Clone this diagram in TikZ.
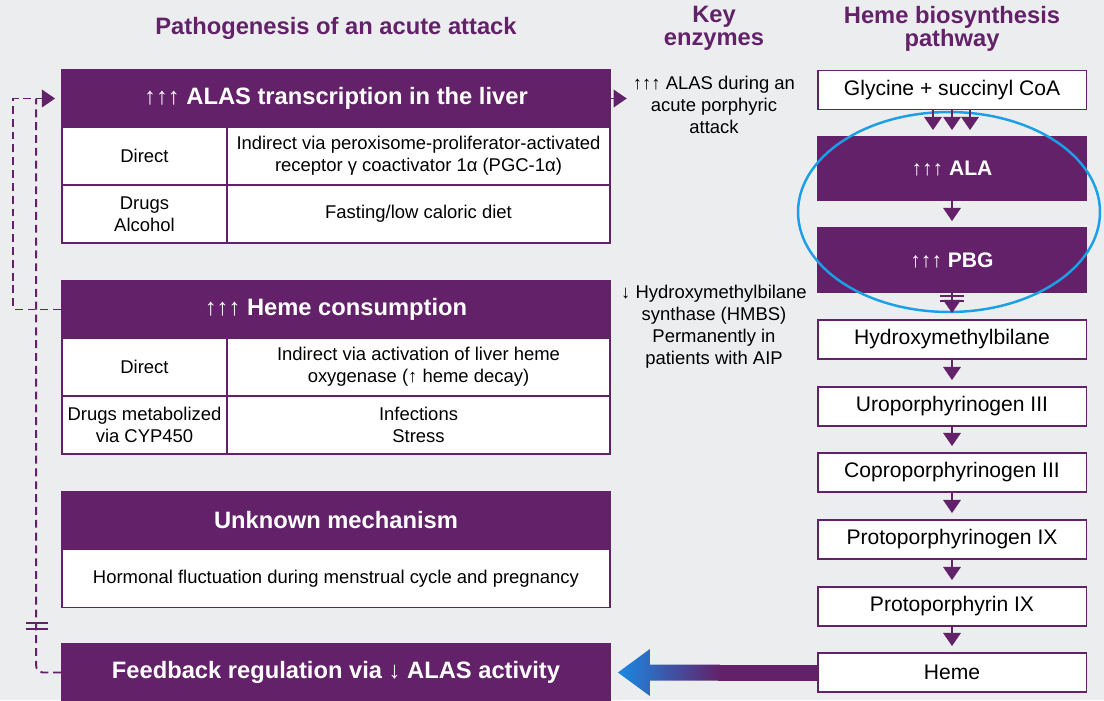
\documentclass[tikz,border=0pt]{standalone}
\usepackage{fontspec}
\setmainfont{Liberation Sans}
\usepackage{tikz}
\usetikzlibrary{arrows.meta}
\usetikzlibrary{calc}

\definecolor{pp}{RGB}{99,33,106}
\definecolor{bgray}{RGB}{236,237,239}
\definecolor{ringblue}{RGB}{27,160,232}
\definecolor{tipblue}{RGB}{26,136,226}

\tikzset{
  hdr/.style={draw=pp, fill=pp, line width=1.1pt, text=white, font=\bfseries\fontsize{13.5}{16}\selectfont, minimum width=10.96cm, minimum height=1.14cm, inner sep=0pt},
  cell/.style={draw=pp, fill=white, line width=1.1pt, align=center, font=\fontsize{10.5}{12.5}\selectfont, minimum height=1.16cm, inner sep=0pt},
  pbox/.style={draw=pp, fill=white, line width=1.1pt, font=\fontsize{12}{14}\selectfont, minimum width=5.38cm, minimum height=0.78cm, inner sep=0pt},
  pfill/.style={pbox, fill=pp, text=white, font=\bfseries\fontsize{12}{14}\selectfont},
  parr/.style={draw=pp, line width=1.1pt, -{Triangle[width=10pt,length=7.5pt]}, shorten >=0.12cm},
  fbline/.style={draw=pp, line width=1.1pt, dash pattern=on 4.5pt off 2.8pt},
  ttl/.style={text=pp, align=center, font=\bfseries\fontsize{13.5}{13}\selectfont},
  note/.style={align=center, font=\fontsize{10.5}{12.5}\selectfont}
}

\begin{document}
\begin{tikzpicture}[x=0.02cm, y=-0.02cm]
        % Background
        \fill[bgray] (0,0) rectangle (1104,700);
        \useasboundingbox (0,0) rectangle (1104,700);

        % Column titles
        \node[ttl] (ttlpath) at (336,28) {Pathogenesis of an acute attack};
        \node[ttl] (ttlkey) at (714,28.5) {Key\\enzymes};
        \node[ttl] (ttlheme) at (952,28.5) {Heme biosynthesis\\pathway};

        % ALAS transcription
        \node[hdr] (alas) at (336,98.5) {{\mdseries ↑↑↑} ALAS transcription in the liver};
        \node[cell, minimum width=3.3cm] (alasd) at (144.5,156) {Direct};
        \node[cell, minimum width=7.66cm] (alasi) at (418.5,156) {Indirect via peroxisome-proliferator-activated\\receptor γ coactivator 1α (PGC-1α)};
        \node[cell, minimum width=3.3cm] (alasdrug) at (144.5,214) {Drugs\\Alcohol};
        \node[cell, minimum width=7.66cm] (alasfast) at (418.5,214) {Fasting/low caloric diet};

        % Heme consumption
        \node[hdr] (hc) at (336,309.5) {{\mdseries ↑↑↑} Heme consumption};
        \node[cell, minimum width=3.3cm] (hcd) at (144.5,367) {Direct};
        \node[cell, minimum width=7.66cm] (hci) at (418.5,367) {Indirect via activation of liver heme\\oxygenase (↑ heme decay)};
        \node[cell, minimum width=3.3cm] (hcdrug) at (144.5,425) {Drugs metabolized\\via CYP450};
        \node[cell, minimum width=7.66cm] (hcinf) at (418.5,425) {Infections\\Stress};

        % Unknown mechanism
        \node[hdr] (unk) at (336,520.5) {Unknown mechanism};
        \node[cell, minimum width=10.96cm] (unkh) at (336,578.5) {Hormonal fluctuation during menstrual cycle and pregnancy};

        % Feedback regulation
        \node[hdr] (fb) at (336,672.5) {Feedback regulation via ↓ ALAS activity};

        % Key enzymes
        \node[note] (keyalas) at (714,105) {{↑↑↑} ALAS during an\\acute porphyric\\attack};
        \node[note] (keyhmbs) at (714,327) {↓ Hydroxymethylbilane\\synthase (HMBS)\\Permanently in\\patients with AIP};
        \draw[parr, shorten >=0pt] (alas.east) -- (keyalas.west |- alas.east);

        % Heme biosynthesis pathway
        \node[pbox] (gly) at (952,90) {Glycine + succinyl CoA};
        \node[pfill, minimum height=1.26cm] (ala) at (952,168.5) {{\mdseries ↑↑↑} ALA};
        \node[pfill, minimum height=1.28cm] (pbg) at (952,260) {{\mdseries ↑↑↑} PBG};
        \node[pbox] (hmb) at (952,339.5) {Hydroxymethylbilane};
        \node[pbox] (uro) at (952,406.5) {Uroporphyrinogen III};
        \node[pbox] (copro) at (952,472.5) {Coproporphyrinogen III};
        \node[pbox] (protogen) at (952,539.5) {Protoporphyrinogen IX};
        \node[pbox] (proto) at (952,606.5) {Protoporphyrin IX};
        \node[pbox] (heme) at (952,672.5) {Heme};

        \draw[ringblue, line width=1.4pt] (949,212) ellipse [x radius=3.02cm, y radius=2cm];

        \foreach \dx in {-19,0,18}
          \draw[parr] ($(gly.south)+(\dx,0)$) -- ($(ala.north)+(\dx,0)$);
        \draw[parr] (ala) -- (pbg);
        \draw[parr] (pbg) -- (hmb);
        \draw[pp, line width=1.1pt] ($(pbg.south)+(-12,3)$) -- ++(24,0)
                                    ($(pbg.south)+(-12,8)$) -- ++(24,0);
        \draw[parr] (hmb) -- (uro);
        \draw[parr] (uro) -- (copro);
        \draw[parr] (copro) -- (protogen);
        \draw[parr] (protogen) -- (proto);
        \draw[parr] (proto) -- (heme);

        % Heme back to feedback
        \coordinate (tip) at ($(fb.east)+(7,0)$);
        \fill[pp] ($(tip)+(100,-8)$) rectangle ($(heme.west)+(0,8)$);
        \shade[left color=tipblue, right color=pp] (tip) -- ++(32,-23.5) -- ++(0,15.5)
          -- ++(70,0) -- ++(0,16) -- ++(-70,0) -- ++(0,15.5) -- cycle;

        % Dashed loops back to ALAS
        \coordinate (join) at ($(alas.west)+(-25,0)$);
        \draw[fbline, -{Triangle[width=10pt,length=7.5pt]}, shorten >=0.12cm] (hc.west) -- ++(-48,0) |- (alas.west);
        \draw[fbline, rounded corners=4pt] (fb.west) -| (join);
        \draw[pp, line width=1.1pt] (26,623) -- (48,623) (26,629) -- (48,629);
\end{tikzpicture}
\end{document}
